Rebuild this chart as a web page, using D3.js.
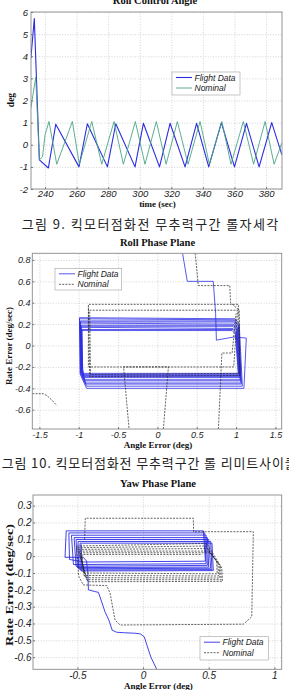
<!DOCTYPE html>
<html>
<head>
<meta charset="utf-8">
<script src="https://cdn.jsdelivr.net/npm/d3@7"></script>
<style>
    body { margin: 0; background: #fff; overflow: hidden; }
    svg { display: block; }
    .tick text { font-family: "Liberation Sans", Arial, sans-serif; font-style: italic; }
    .ttl { font-family: "Liberation Serif", "Times New Roman", serif; font-weight: bold; fill: #111; }
    .cap { font-family: "Noto Sans CJK KR", sans-serif; fill: #222; }
    .leg { font-family: "Liberation Sans", Arial, sans-serif; font-style: italic; fill: #222; }
</style>
</head>
<body>
<svg id="chart" width="289" height="690"></svg>
<script>
    // ---- Roll Control Angle (deg vs time)
    var ctrlTime = [231, 233.2, 236.4, 242.1, 246.8, 261.5, 266.8, 279.5, 284.8, 297.0, 302.3, 312.5, 319.2, 328.7, 336.0, 343.7, 351.7, 360.0, 367.6, 375.6, 383.6, 390];
    var ctrlFlight = [3.9, 5.7, -0.68, -1.05, 0.93, -1.0, 0.95, -1.0, 0.95, -1.0, 0.97, -1.0, 0.97, -1.0, 0.97, -1.0, 1.0, -1.0, 0.97, -1.0, 1.0, -0.45];
    var ctrlNomTime = [231, 234.1, 236.4, 238.4, 240, 242.5, 247.4, 257.3, 261.7, 269.6, 275.9, 283.7, 289.6, 297.2, 303.3, 310.5, 316.7, 323.8, 330.6, 338.2, 344.1, 352.0, 357.8, 365.6, 372.1, 379.4, 385.1, 390];
    var ctrlNominal = [1.65, 3.05, -0.68, -0.55, 0.45, 1.05, -0.88, 1.05, -0.88, 1.05, -0.88, 1.05, -0.88, 1.05, -0.88, 1.05, -0.88, 1.05, -0.88, 1.05, -0.88, 1.05, -0.88, 1.05, -0.88, 1.05, -0.88, 0.08];
    var ctrlXTicks = [240, 260, 280, 300, 320, 340, 360, 380];
    var ctrlXLabels = ["240", "260", "280", "300", "320", "340", "360", "380"];
    var ctrlYTicks = [-2, -1, 0, 1, 2, 3, 4, 5, 6];
    var ctrlYLabels = ["-2", "-1", "0", "1", "2", "3", "4", "5", "6"];

    // ---- Roll Phase Plane (rate error vs angle error)
    var rollFlightAngle = [0.32, 0.38, 0.39, 0.71, 0.74, 0.75, 0.97, 1.13, 1.10,
        -0.90, -0.98, -0.99, 0.99, 1.04, 1.08,
        -0.90, -0.98, -0.99, 0.98, 1.03, 1.07,
        -0.91, -0.97, -0.98, 0.98, 1.03, 1.06,
        -0.91, -0.97, -0.98, 0.97, 1.02, 1.06,
        -0.92, -0.97, -0.98, 0.97, 1.02, 1.05,
        -0.92, -0.96, -0.97, 0.97, 1.01, 1.05,
        -0.93, -0.96, -0.97, 0.96, 1.01, 1.04,
        -0.93, -0.96, -0.97, 0.96, 1.00, 1.04,
        -0.94, -0.95, -0.96, 0.96, 1.00, 1.03,
        -0.94, -0.95, -0.96, 0.95, 0.99, 1.03, -0.94];
    var rollFlightRate = [0.862, 0.60, 0.60, 0.60, 0.30, 0.05, 0.08, 0.07, -0.40,
        -0.40, -0.27, 0.26, 0.25, 0.20, -0.38,
        -0.38, -0.26, 0.25, 0.24, 0.19, -0.36,
        -0.36, -0.26, 0.23, 0.23, 0.18, -0.35,
        -0.35, -0.25, 0.22, 0.22, 0.17, -0.33,
        -0.33, -0.25, 0.21, 0.20, 0.16, -0.32,
        -0.32, -0.24, 0.19, 0.19, 0.15, -0.30,
        -0.30, -0.24, 0.18, 0.18, 0.14, -0.29,
        -0.29, -0.23, 0.17, 0.16, 0.13, -0.28,
        -0.28, -0.23, 0.15, 0.15, 0.12, -0.27,
        -0.27, -0.22, 0.14, 0.14, 0.11, -0.26, -0.26];
    var rollNomAngle = [
        [-1.59, -1.45, -1.40, -1.34, -1.28],
        [0.48, 0.52, 0.92, 0.93, 1.04, 1.05, -0.86, -0.877, 1.03, 1.05, -0.85, -0.86, 1.02, 0.97, -0.43, -0.36],
        [0.076, 0.14, -0.877, -0.877],
        [0.775, 0.82, 0.95, 1.0]
    ];
    var rollNomRate = [
        [-0.45, -0.45, -0.47, -0.51, -0.56],
        [0.862, 0.56, 0.56, 0.40, 0.33, -0.28, -0.29, 0.385, 0.385, -0.26, -0.27, 0.33, 0.33, -0.2, -0.2, -0.78],
        [-0.78, -0.2, -0.2, 0.36],
        [-0.78, -0.07, -0.07, 0.30]
    ];
    var rollXTicks = [-1.5, -1, -0.5, 0, 0.5, 1, 1.5];
    var rollXLabels = ["-1.5", "-1", "-0.5", "0", "0.5", "1", "1.5"];
    var rollYTicks = [-0.6, -0.4, -0.2, 0, 0.2, 0.4, 0.6, 0.8];
    var rollYLabels = ["-0.6", "-0.4", "-0.2", "0", "0.2", "0.4", "0.6", "0.8"];

    // ---- Yaw Phase Plane
    var yawFlightAngle = [0.104, 0.06, 0.03, 0.01, -0.02, -0.06, -0.14, -0.2, -0.235, -0.26, -0.29, -0.32, -0.34, -0.37, -0.416, -0.42, -0.43, -0.455, -0.594,
        -0.585, 0.46, 0.475, -0.45, -0.56,
        -0.565, 0.47, 0.48, -0.53,
        -0.545, 0.48, 0.49, -0.51,
        -0.525, 0.49, 0.50, -0.50,
        -0.51, 0.50, 0.515, -0.49,
        -0.495, 0.515, 0.525, -0.48,
        -0.48, 0.525, 0.535, -0.47, -0.47];
    var yawFlightRate = [-0.672, -0.6, -0.53, -0.48, -0.462, -0.458, -0.455, -0.452, -0.44, -0.38, -0.33, -0.26, -0.215, -0.21, -0.2, -0.1, -0.03, -0.007, -0.007,
        0.15, 0.15, -0.03, -0.035, -0.02,
        0.138, 0.138, -0.045, -0.05,
        0.124, 0.125, -0.055, -0.06,
        0.11, 0.11, -0.065, -0.068,
        0.099, 0.099, -0.072, -0.075,
        0.087, 0.087, -0.08, -0.082,
        0.077, 0.077, -0.086, -0.088, 0.07];
    var yawNomAngle = [-0.445, -0.44, 0.383, 0.385, 0.84, 0.828, 0.764, -0.175, -0.213, -0.251, -0.276, -0.455, -0.49, -0.505, 0.47, 0.49, 0.60, 0.605, -0.42, -0.50, 0.48, 0.59, 0.595, -0.43, -0.49, 0.49, 0.58, 0.585, -0.44, -0.48, 0.50, 0.57, 0.575, -0.45, -0.47, 0.51, 0.56, 0.565, -0.455, -0.465, 0.45];
    var yawNomRate = [0.1, 0.225, 0.225, 0.145, 0.145, -0.36, -0.404, -0.409, -0.38, -0.22, -0.175, -0.171, -0.12, 0.06, 0.075, 0.07, -0.07, -0.15, -0.152, 0.05, 0.06, -0.06, -0.14, -0.14, 0.04, 0.045, -0.05, -0.13, -0.128, 0.03, 0.03, -0.04, -0.118, -0.115, 0.02, 0.02, -0.03, -0.105, -0.10, 0.01, 0.01];
    var yawXTicks = [-0.5, 0, 0.5, 1];
    var yawXLabels = ["-0.5", "0", "0.5", "1"];
    var yawYTicks = [-0.6, -0.5, -0.4, -0.3, -0.2, -0.1, 0, 0.1, 0.2, 0.3];
    var yawYLabels = ["-0.6", "-0.5", "-0.4", "-0.3", "-0.2", "-0.1", "0", "0.1", "0.2", "0.3"];

    var legendLabels = ["Flight Data", "Nominal"];
    var captions = ["그림 9. 킥모터점화전 무추력구간 롤자세각", "그림 10. 킥모터점화전 무추력구간 롤 리미트사이클"];

    var svg = d3.select("#chart");

    function panel(o) {
        var x = d3.scaleLinear().domain(o.xDomain).range([o.left, o.right]);
        var y = d3.scaleLinear().domain(o.yDomain).range([o.bottom, o.top]);
        var w = o.right - o.left, h = o.bottom - o.top;
        var g = svg.append("g");

        g.append("clipPath").attr("id", o.id)
            .append("rect").attr("x", o.left).attr("y", o.top).attr("width", w).attr("height", h);

        // dotted grid
        g.append("g").attr("transform", "translate(0," + o.bottom + ")")
            .call(d3.axisBottom(x).tickValues(o.xTicks).tickSize(-h).tickFormat(""))
            .call(s => s.select(".domain").remove())
            .selectAll("line").attr("stroke", "#c2c2c2").attr("stroke-width", 0.7).attr("stroke-dasharray", "1,1.6");
        g.append("g").attr("transform", "translate(" + o.left + ",0)")
            .call(d3.axisLeft(y).tickValues(o.yTicks).tickSize(-w).tickFormat(""))
            .call(s => s.select(".domain").remove())
            .selectAll("line").attr("stroke", "#c2c2c2").attr("stroke-width", 0.7).attr("stroke-dasharray", "1,1.6");

        var line = d3.line().x(d => x(d[0])).y(d => y(d[1]));
        var plot = g.append("g").attr("clip-path", "url(#" + o.id + ")");
        o.series.forEach(function (s) {
            s.paths.forEach(function (p) {
                plot.append("path").datum(d3.zip(p[0], p[1]))
                    .attr("d", line)
                    .attr("fill", "none")
                    .attr("stroke", s.color)
                    .attr("stroke-width", s.width)
                    .attr("stroke-dasharray", s.dash || null)
                    .attr("stroke-linejoin", "round");
            });
        });

        g.append("rect").attr("x", o.left).attr("y", o.top).attr("width", w).attr("height", h)
            .attr("fill", "none").attr("stroke", "#8a8a8a").attr("stroke-width", 0.9);

        g.append("g").attr("transform", "translate(0," + o.bottom + ")")
            .call(d3.axisBottom(x).tickValues(o.xTicks).tickFormat((d, i) => o.xLabels[i])
                .tickSizeInner(-2).tickSizeOuter(0).tickPadding(o.padX))
            .call(s => s.select(".domain").remove())
            .call(s => s.selectAll(".tick line").attr("stroke", "#777"))
            .selectAll("text").attr("font-size", o.tickFont).attr("fill", "#222");
        g.append("g").attr("transform", "translate(" + o.left + ",0)")
            .call(d3.axisLeft(y).tickValues(o.yTicks).tickFormat((d, i) => o.yLabels[i])
                .tickSizeInner(-2).tickSizeOuter(0).tickPadding(o.padY))
            .call(s => s.select(".domain").remove())
            .call(s => s.selectAll(".tick line").attr("stroke", "#777"))
            .selectAll("text").attr("font-size", o.tickFontY || o.tickFont).attr("fill", "#222");

        // titles
        g.append("text").attr("class", "ttl").attr("x", o.titleX).attr("y", o.titleY)
            .attr("text-anchor", "middle").attr("font-size", 10.5).text(o.title);
        g.append("text").attr("class", "ttl").attr("x", (o.left + o.right) / 2 + 1).attr("y", o.xLabelY)
            .attr("text-anchor", "middle").attr("font-size", 9).text(o.xLabel);
        var yl = g.append("text").attr("class", "ttl")
            .attr("transform", "translate(" + o.yLabelX + "," + o.yLabelMid + ") rotate(-90)")
            .attr("text-anchor", "middle").attr("font-size", o.yLabelFont).text(o.yLabel);
        if (o.yLabelLen) yl.attr("textLength", o.yLabelLen).attr("lengthAdjust", "spacingAndGlyphs");

        // legend
        var L = o.legend;
        var lg = g.append("g");
        lg.append("rect").attr("x", L.x).attr("y", L.y).attr("width", L.w).attr("height", L.h)
            .attr("fill", "#fff").attr("stroke", "#a0a0a0").attr("stroke-width", 0.6);
        o.series.forEach(function (s, i) {
            var ly = L.y + 5.5 + i * 10.5;
            lg.append("line").attr("x1", L.x + 4).attr("x2", L.x + 20).attr("y1", ly).attr("y2", ly)
                .attr("stroke", s.color).attr("stroke-width", s.width).attr("stroke-dasharray", s.dash || null);
            lg.append("text").attr("class", "leg").attr("x", L.x + 22.5).attr("y", ly + 3)
                .attr("font-size", 8.5).text(legendLabels[i]);
        });
    }

    panel({
        id: "c1", left: 31, right: 282, top: 12, bottom: 189,
        xDomain: [231.1, 390.1], yDomain: [-2, 6],
        xTicks: ctrlXTicks, xLabels: ctrlXLabels, yTicks: ctrlYTicks, yLabels: ctrlYLabels,
        tickFont: 9.5, padX: 1.3, padY: 3,
        title: "Roll Control Angle", titleX: 155, titleY: 3.5,
        xLabel: "time (sec)", xLabelY: 207,
        yLabel: "deg", yLabelX: 13.5, yLabelMid: 100, yLabelFont: 9.5,
        legend: { x: 172, y: 72, w: 68, h: 23 },
        series: [
            { color: "#2b2be0", width: 1.1, paths: [[ctrlTime, ctrlFlight]] },
            { color: "#4aa583", width: 0.9, paths: [[ctrlNomTime, ctrlNominal]] }
        ]
    });

    panel({
        id: "c2", left: 32.3, right: 281.7, top: 253.3, bottom: 429,
        xDomain: [-1.59, 1.58], yDomain: [-0.78, 0.862],
        xTicks: rollXTicks, xLabels: rollXLabels, yTicks: rollYTicks, yLabels: rollYLabels,
        tickFont: 9, padX: 2.6, padY: 1.8,
        title: "Roll Phase Plane", titleX: 157.5, titleY: 246,
        xLabel: "Angle Error (deg)", xLabelY: 447.5,
        yLabel: "Rate Error (deg/sec)", yLabelX: 11.5, yLabelMid: 346, yLabelFont: 9,
        legend: { x: 55, y: 268.3, w: 66.7, h: 21.7 },
        series: [
            { color: "#2d2de6", width: 0.8, paths: [[rollFlightAngle, rollFlightRate]] },
            { color: "#222", width: 0.7, dash: "2,1.2", paths: rollNomAngle.map((a, i) => [a, rollNomRate[i]]) }
        ]
    });

    panel({
        id: "c3", left: 33, right: 281.7, top: 495, bottom: 669.3,
        xDomain: [-0.838, 1.056], yDomain: [-0.672, 0.363],
        xTicks: yawXTicks, xLabels: yawXLabels, yTicks: yawYTicks, yLabels: yawYLabels,
        tickFont: 10, tickFontY: 10, padX: 2.9, padY: 1.5,
        title: "Yaw Phase Plane", titleX: 158, titleY: 487,
        xLabel: "Angle Error (deg)", xLabelY: 689,
        yLabel: "Rate Error (deg/sec)", yLabelX: 12.5, yLabelMid: 585, yLabelFont: 9.5, yLabelLen: 122,
        legend: { x: 200, y: 636.7, w: 68.3, h: 23.3 },
        series: [
            { color: "#2d2de6", width: 0.9, paths: [[yawFlightAngle, yawFlightRate]] },
            { color: "#222", width: 0.7, dash: "2,1.2", paths: [[yawNomAngle, yawNomRate]] }
        ]
    });

    // figure captions
    svg.append("text").attr("class", "cap").attr("x", 21.7).attr("y", 228.5)
        .attr("font-size", 13).attr("textLength", 256.6).attr("lengthAdjust", "spacing").text(captions[0]);
    svg.append("text").attr("class", "cap").attr("x", 1.7).attr("y", 467.5)
        .attr("font-size", 13).attr("textLength", 295).attr("lengthAdjust", "spacing").text(captions[1]);
</script>
</body>
</html>
